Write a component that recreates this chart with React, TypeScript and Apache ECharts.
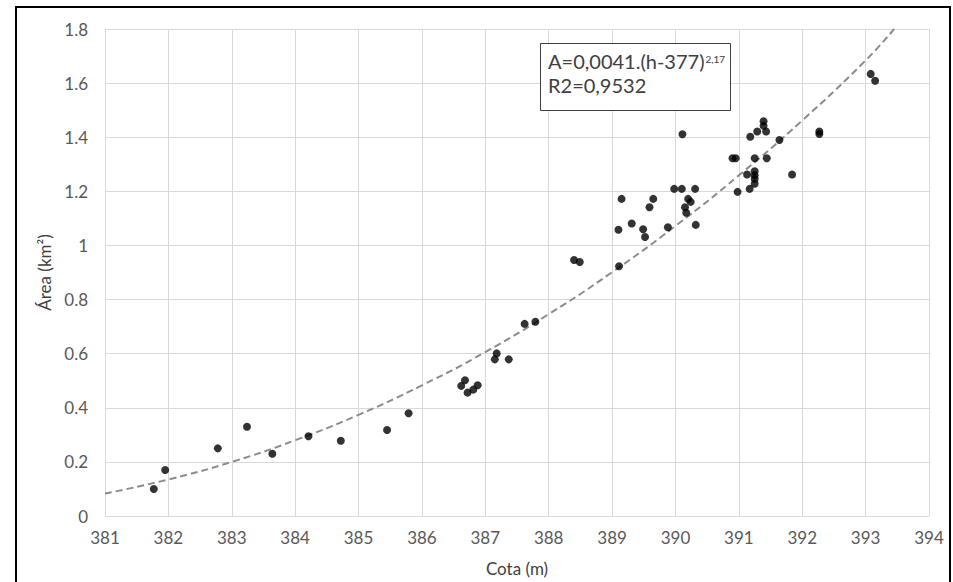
import React, { useEffect, useRef } from "react";
import * as echarts from "echarts";

// Observed points: elevation (m) and area (km²)
const cota: number[] = [
  381.77, 381.95, 382.78, 383.24, 383.64, 384.21, 384.72, 385.45, 385.79,
  386.62, 386.68, 386.72, 386.81, 386.88, 387.15, 387.18, 387.37, 387.62, 387.79,
  388.4, 388.49, 389.11, 389.1, 389.15, 389.31, 389.49, 389.52, 389.59, 389.65,
  389.88, 389.98, 390.1, 390.31, 390.2, 390.24, 390.15, 390.17, 390.32, 390.11,
  390.98, 391.17, 391.13, 391.25, 391.25, 391.25, 391.25, 391.84, 390.9, 390.95,
  391.25, 391.44, 391.64, 391.18, 391.29, 391.43, 391.39, 391.39, 392.27, 392.27,
  393.08, 393.15,
];
const area: number[] = [
  0.1, 0.17, 0.25, 0.33, 0.23, 0.295, 0.278, 0.318, 0.38,
  0.481, 0.502, 0.456, 0.467, 0.483, 0.579, 0.601, 0.579, 0.71, 0.718,
  0.946, 0.939, 0.923, 1.058, 1.172, 1.081, 1.06, 1.031, 1.141, 1.172,
  1.067, 1.209, 1.209, 1.209, 1.172, 1.161, 1.141, 1.121, 1.076, 1.411,
  1.198, 1.209, 1.262, 1.274, 1.259, 1.246, 1.228, 1.262, 1.322, 1.322,
  1.322, 1.322, 1.39, 1.402, 1.421, 1.421, 1.442, 1.459, 1.421, 1.412,
  1.634, 1.609,
];

// Dashed trend curve
const trendCota: number[] = [381, 382, 383, 384, 385, 386, 387, 388, 389, 390, 391, 392, 393, 393.45];
const trendArea: number[] = [0.083, 0.135, 0.2, 0.28, 0.374, 0.483, 0.606, 0.746, 0.901, 1.072, 1.259, 1.462, 1.684, 1.8];

const xTicks = { min: 381, max: 394, interval: 1 };
const yTicks = { min: 0, max: 1.8, interval: 0.2 };

const equationText = "A=0,0041.(h-377)";
const equationExp = "2,17";
const r2Text = "R2=0,9532";

const FONT = "Lato, 'Open Sans', sans-serif";

export default function App() {
  const ref = useRef<HTMLDivElement>(null);

  useEffect(() => {
    if (!ref.current) return;
    const chart = echarts.init(ref.current, undefined, { renderer: "svg" });
    const points = cota.map((c, i) => [c, area[i]]);
    const trend = trendCota.map((c, i) => [c, trendArea[i]]);

    chart.setOption({
      animation: false,
      backgroundColor: "#ffffff",
      textStyle: { fontFamily: FONT },
      grid: { left: 105, top: 29, right: 24, bottom: 66, containLabel: false },
      xAxis: {
        type: "value",
        min: xTicks.min,
        max: xTicks.max,
        interval: xTicks.interval,
        name: "Cota (m)",
        nameLocation: "middle",
        nameGap: 44,
        nameTextStyle: { color: "#404040", fontSize: 17, fontFamily: FONT },
        axisLine: { show: false },
        axisTick: { show: false },
        axisLabel: { color: "#595959", fontSize: 17, margin: 13, fontFamily: FONT },
        splitLine: { show: true, lineStyle: { color: "#d9d9d9", width: 1 } },
      },
      yAxis: {
        type: "value",
        min: yTicks.min,
        max: yTicks.max,
        interval: yTicks.interval,
        name: "Área (km²)",
        nameLocation: "middle",
        nameGap: 49,
        nameRotate: 90,
        nameTextStyle: { color: "#404040", fontSize: 17, fontFamily: FONT },
        axisLine: { show: false },
        axisTick: { show: false },
        axisLabel: { color: "#595959", fontSize: 17, margin: 17, fontFamily: FONT },
        splitLine: { show: true, lineStyle: { color: "#d9d9d9", width: 1 } },
      },
      series: [
        {
          type: "line",
          data: trend,
          smooth: true,
          showSymbol: false,
          symbol: "none",
          lineStyle: { color: "#8c8c8c", width: 2, type: [7, 4] },
          z: 2,
        },
        {
          type: "scatter",
          data: points,
          symbol: "circle",
          symbolSize: 8,
          itemStyle: { color: "#000000" },
          z: 3,
        },
      ],
      graphic: [
        {
          type: "rect",
          shape: { x: 16, y: 7, width: 934, height: 580 },
          style: { fill: "none", stroke: "#000000", lineWidth: 2 },
          silent: true,
          z: 10,
        },
        {
          type: "rect",
          shape: { x: 540.5, y: 43.5, width: 190, height: 67 },
          style: { fill: "#ffffff", stroke: "#404040", lineWidth: 1 },
          z: 10,
        },
        {
          type: "text",
          x: 548,
          y: 51,
          style: {
            text: `{m|${equationText}}{s|${equationExp}}`,
            rich: {
              m: { fontSize: 20, fontFamily: FONT, fill: "#404040", lineHeight: 20 },
              s: {
                fontSize: 10,
                fontFamily: FONT,
                fill: "#404040",
                lineHeight: 10,
                verticalAlign: "top",
                padding: [3, 0, 0, 1],
              },
            },
          },
          z: 11,
        },
        {
          type: "text",
          x: 548,
          y: 75,
          style: { text: r2Text, fontSize: 20, fontFamily: FONT, fill: "#404040" },
          z: 11,
        },
      ],
    });
    return () => chart.dispose();
  }, []);

  return (
    <div
      ref={ref}
      style={{ position: "fixed", left: 0, top: 0, width: 953, height: 582, background: "#fff" }}
    />
  );
}
